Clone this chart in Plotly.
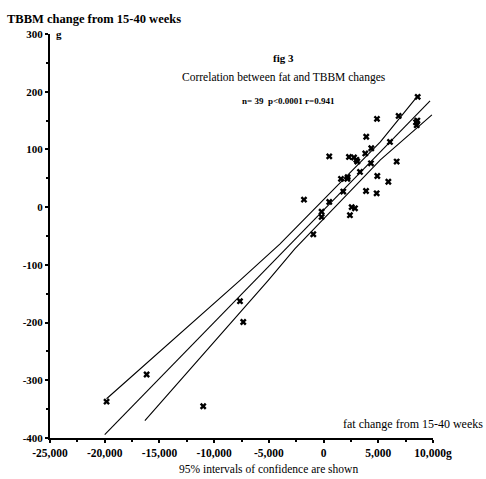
import plotly.graph_objects as go

# Data (fat change g, TBBM change g)
fat_change = [-19830, -16170, -11000, -7640, -7340, -1790, -940, -180, -180, 520,
              520, 1590, 1800, 2170, 2320, 2410, 2570, 2780, 2870, 3080,
              3000, 3330, 3810, 3880, 3900, 4330, 4360, 4850, 4880, 4910,
              5920, 6070, 6680, 6860, 8510, 8570, 8600, 8450, 2200]
tbbm_change = [-337, -290, -345, -163, -199, 13, -47, -17, -8, 9,
               88, 49, 27, 49, 87, -14, 0, 86, -2, 79,
               82, 61, 93, 28, 122, 76, 102, 24, 153, 54,
               44, 113, 79, 158, 142, 150, 191, 147, 52]

# regression line and 95% confidence lines (vertices)
reg_x = [-20000, 9730]
reg_y = [-394, 184]
ci_up_x = [-19830, -7640, -4000, 5190, 8660]
ci_up_y = [-332, -127, -64, 113, 194]
ci_lo_x = [-16330, -5055, -2610, 5190, 9900]
ci_lo_y = [-370, -127, -72, 82, 160]

x_ticks = [-25000, -20000, -15000, -10000, -5000, 0, 5000, 10000]
x_labels = ["-25,000", "-20,000", "-15,000", "-10,000", "-5,000", "0", "5,000", "10,000g"]
y_ticks = [-400, -300, -200, -100, 0, 100, 200, 300]
y_labels = ["-400", "-300", "-200", "-100", "0", "100", "200", "300"]

FONT = "Liberation Serif"

fig = go.Figure()
for xs, ys in [(reg_x, reg_y), (ci_up_x, ci_up_y), (ci_lo_x, ci_lo_y)]:
    fig.add_trace(go.Scatter(x=xs, y=ys, mode="lines",
                             line=dict(color="black", width=1.1),
                             showlegend=False, hoverinfo="skip"))
fig.add_trace(go.Scatter(x=fat_change, y=tbbm_change, mode="markers",
                         marker=dict(symbol="x", size=6, color="black",
                                     line=dict(width=0)),
                         showlegend=False))

fig.update_layout(
    width=486, height=479,
    margin=dict(l=50, r=53, t=34, b=41),
    paper_bgcolor="white", plot_bgcolor="white",
    font=dict(family=FONT, color="black", size=11),
    xaxis=dict(range=[-25000, 10000], tickvals=x_ticks, ticktext=x_labels,
               showgrid=False, zeroline=False, showline=True,
               linecolor="black", linewidth=2, ticks="outside", ticklen=3,
               tickwidth=1.5, tickcolor="black",
               tickfont=dict(family=FONT, size=11.5, weight="bold"),
               minor=dict(ticks="outside", ticklen=2, dtick=2500, tickcolor="black")),
    yaxis=dict(range=[-400, 300], tickvals=y_ticks, ticktext=y_labels,
               showgrid=False, zeroline=False, showline=True,
               linecolor="black", linewidth=2, ticks="outside", ticklen=3,
               tickwidth=1.5, tickcolor="black",
               tickfont=dict(family=FONT, size=11, weight="bold"),
               minor=dict(ticks="outside", ticklen=2, dtick=50, tickcolor="black")),
)

ann = [
    dict(text="<b>TBBM change from 15-40 weeks</b>", x=5, y=19, size=12.5, xanchor="left"),
    dict(text="<b>g</b>", x=54, y=34, size=11, xanchor="left"),
    dict(text="<b>fig 3</b>", x=283, y=58, size=11, xanchor="center"),
    dict(text="Correlation between fat and TBBM changes", x=284, y=77, size=11.5, xanchor="center"),
    dict(text="<b>n= 39  p&lt;0.0001 r=0.941</b>", x=288, y=101, size=9, xanchor="center"),
    dict(text="fat change from 15-40 weeks", x=485, y=424, size=12, xanchor="right"),
    dict(text="95% intervals of confidence are shown", x=268, y=469, size=11.5, xanchor="center"),
]
for a in ann:
    fig.add_annotation(text=a["text"], xref="paper", yref="paper",
                       x=(a["x"] - 50) / (486 - 50 - 53),
                       y=(479 - 41 - a["y"]) / (479 - 34 - 41),
                       xanchor=a["xanchor"], yanchor="middle", showarrow=False,
                       font=dict(family=FONT, size=a["size"], color="black"))

fig.write_html("out.html")
